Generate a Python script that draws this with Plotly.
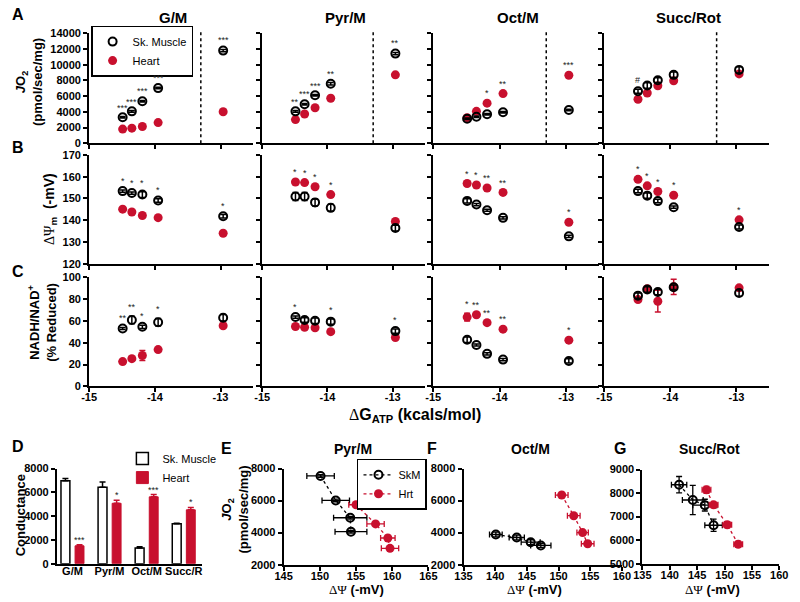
import plotly.graph_objects as go

# ================= DATA =================
dG = [-14.49, -14.35, -14.19, -13.95, -12.96]          # ΔG_ATP (kcal/mol)
dg_ticks = [-15, -14, -13]
substrates = ["G/M", "Pyr/M", "Oct/M", "Succ/Rot"]

# Row A: JO2 (pmol/sec/mg)
jo2_ticks = [0, 2000, 4000, 6000, 8000, 10000, 12000, 14000]
jo2_skm = [[3300, 4060, 5360, 7030, 11810],
           [4060, 4980, 6110, 7580, 11430],
           [3130, 3380, 3690, 3940, 4230],
           [6620, 7370, 8040, 8720, 9350]]
jo2_skm_err = [[100, 100, 100, 100, 150],
               [100, 100, 100, 150, 150],
               [100, 100, 100, 100, 100],
               [250, 350, 300, 350, 400]]
jo2_hrt = [[1800, 1920, 2130, 2630, 4010],
           [3010, 3720, 4520, 5740, 8720],
           [3260, 4060, 5110, 6330, 8670],
           [5610, 6400, 7330, 7960, 8840]]
jo2_hrt_err = [[80, 80, 80, 80, 100],
               [80, 80, 80, 100, 100],
               [80, 80, 100, 100, 100],
               [100, 150, 150, 200, 200]]
jo2_stars = [["***", "***", "***", "***", "***"],
             ["**", "***", "***", "**", "**"],
             ["", "", "*", "**", "***"],
             ["#", "", "", "", ""]]

# Row B: membrane potential (-mV)
psi_ticks = [120, 130, 140, 150, 160, 170]
psi_skm = [[153.4, 152.5, 151.8, 149.1, 141.8],
           [150.9, 150.9, 148.2, 145.7, 136.4],
           [148.9, 147.2, 144.6, 141.1, 132.6],
           [153.4, 151.3, 148.8, 146.0, 136.9]]
psi_skm_err = [[0.5, 0.5, 1.3, 0.8, 0.8],
               [1.8, 1.8, 1.6, 1.6, 1.3],
               [1.0, 0.5, 0.5, 0.5, 0.5],
               [0.8, 1.2, 0.8, 0.5, 0.9]]
psi_hrt = [[145.1, 143.8, 142.2, 141.2, 134.0],
           [157.6, 157.3, 155.4, 151.8, 139.4],
           [156.9, 156.2, 154.8, 152.8, 139.1],
           [158.8, 155.8, 153.2, 151.5, 140.2]]
psi_hrt_err = [[0.4, 0.4, 0.4, 0.4, 0.4],
               [0.4, 0.4, 0.4, 0.4, 0.4],
               [0.4, 0.4, 0.4, 0.4, 0.4],
               [0.4, 0.4, 0.4, 0.4, 0.4]]
psi_stars = [["*", "*", "*", "*", "*"],
             ["*", "*", "*", "*", ""],
             ["*", "*", "**", "**", "*"],
             ["*", "*", "*", "*", "*"]]

# Row C: NADH/NAD+ (% reduced)
nadh_ticks = [0, 20, 40, 60, 80, 100]
nadh_skm = [[53.1, 60.9, 54.7, 58.8, 63.0],
            [63.6, 60.9, 60.3, 59.4, 50.7],
            [42.7, 37.9, 29.8, 24.5, 23.3],
            [83.3, 89.0, 86.6, 91.0, 85.7]]
nadh_skm_err = [[1.0, 3.5, 1.5, 3.5, 3.0],
                [1.0, 2.0, 2.5, 2.5, 2.0],
                [2.5, 1.0, 1.0, 1.0, 2.0],
                [2.5, 2.5, 2.5, 2.0, 3.0]]
nadh_hrt = [[22.7, 25.4, 28.3, 33.7, 55.6],
            [54.9, 54.3, 53.8, 50.2, 44.8],
            [63.6, 65.7, 58.5, 52.5, 42.4],
            [79.7, 89.6, 78.2, 91.4, 90.5]]
nadh_hrt_err = [[1.0, 1.0, 4.5, 1.0, 1.0],
                [1.0, 1.0, 1.0, 1.0, 1.0],
                [3.5, 1.0, 1.0, 1.0, 1.0],
                [1.0, 1.5, 10.0, 7.0, 1.0]]
nadh_stars = [["**", "**", "*", "*", ""],
              ["*", "", "", "*", "*"],
              ["*", "**", "**", "**", "*"],
              ["", "", "", "", ""]]

# Panel D: conductance
cond_cats = ["G/M", "Pyr/M", "Oct/M", "Succ/R"]
cond_pos = [0, 1, 2, 3]
cond_ticks = [0, 2000, 4000, 6000, 8000]
cond_skm = [6970, 6420, 1310, 3360]
cond_skm_err = [200, 450, 120, 50]
cond_hrt = [1500, 5080, 5620, 4530]
cond_hrt_err = [100, 250, 200, 200]
cond_stars = ["***", "*", "***", "*"]

# Panels E-G: JO2 vs membrane potential
e_psi_skm = [150.1, 152.2, 154.2, 154.3]
e_psi_skm_err = [1.9, 1.9, 2.3, 2.2]
e_jo2_skm = [7540, 6010, 4930, 4056]
e_jo2_skm_err = [80, 80, 80, 80]
e_psi_hrt = [155.0, 157.7, 159.4, 159.7]
e_psi_hrt_err = [1.0, 1.2, 1.0, 1.2]
e_jo2_hrt = [5740, 4544, 3665, 3018]
e_jo2_hrt_err = [80, 80, 80, 80]
e_ticks_x = [145, 150, 155, 160, 165]
e_ticks_y = [2000, 4000, 6000, 8000]

f_psi_skm = [140.1, 143.4, 145.6, 147.2]
f_psi_skm_err = [1.0, 1.2, 1.5, 1.6]
f_jo2_skm = [3882, 3696, 3404, 3199]
f_jo2_skm_err = [150, 150, 150, 120]
f_psi_hrt = [150.5, 152.4, 153.8, 154.6]
f_psi_hrt_err = [1.0, 1.0, 0.9, 1.0]
f_jo2_hrt = [6348, 5056, 4000, 3304]
f_jo2_hrt_err = [100, 80, 80, 80]
f_ticks_x = [135, 140, 145, 150, 155, 160]
f_ticks_y = [2000, 4000, 6000, 8000]

g_psi_skm = [141.7, 144.2, 146.4, 148.0]
g_psi_skm_err = [1.4, 1.9, 2.2, 1.6]
g_jo2_skm = [8355, 7707, 7488, 6632]
g_jo2_skm_err = [350, 620, 250, 260]
g_psi_hrt = [146.7, 148.0, 150.5, 152.5]
g_psi_hrt_err = [0.8, 0.8, 0.8, 0.8]
g_jo2_hrt = [8138, 7500, 6653, 5826]
g_jo2_hrt_err = [150, 120, 120, 120]
g_ticks_x = [135, 140, 145, 150, 155, 160]
g_ticks_y = [5000, 6000, 7000, 8000, 9000]

# ================= STYLE / GEOMETRY =================
W, H = 800, 602
FONT = "Arial, 'Liberation Sans', Helvetica, sans-serif"
RED = "#C8102E"
BLK = "black"

panel_x = [(82, 250), (259, 426), (434, 604), (609, 778)]
row_y = [(28, 140), (152, 263), (277, 388)]
row_range = [[0, 14000], [120, 170], [0, 100]]
break_x = -13.3

fig = go.Figure()

axis_common = dict(showline=True, linecolor=BLK, linewidth=2, ticks="outside",
                   ticklen=4, tickwidth=1.5, tickcolor=BLK, showgrid=False,
                   zeroline=False, fixedrange=True,
                   tickfont=dict(family=FONT, size=11, color=BLK, weight="bold"))

_count = [0]


def new_axes(xd, yd, xr, yr, xkw=None, ykw=None):
    _count[0] += 1
    n = _count[0]
    sx = "" if n == 1 else str(n)
    xa = dict(axis_common)
    xa.update(domain=[xd[0] / W, xd[1] / W], range=xr, anchor="y" + sx,
              ticklabelstandoff=-4)
    xa.update(xkw or {})
    ya = dict(axis_common)
    ya.update(domain=[1 - yd[1] / H, 1 - yd[0] / H], range=yr, anchor="x" + sx)
    ya.update(ykw or {})
    fig.update_layout({"xaxis" + sx: xa, "yaxis" + sx: ya})
    return "x" + sx, "y" + sx


def label(px, py, s, size, bold=True, angle=0, xanchor="center", yanchor="middle"):
    fig.add_annotation(x=px / W, y=1 - py / H, xref="paper", yref="paper", text=s,
                       showarrow=False, textangle=angle, xanchor=xanchor, yanchor=yanchor,
                       font=dict(family=FONT, size=size, color=BLK,
                                 weight="bold" if bold else "normal"))


def skm_marker():
    return dict(symbol="circle-open", size=8, color=BLK, line=dict(width=2, color=BLK))


def hrt_marker():
    return dict(symbol="circle", size=9, color=RED, line=dict(width=0))


def tick_text(vals):
    return [str(v) for v in vals]


rows = [(jo2_skm, jo2_skm_err, jo2_hrt, jo2_hrt_err, jo2_stars, jo2_ticks),
        (psi_skm, psi_skm_err, psi_hrt, psi_hrt_err, psi_stars, psi_ticks),
        (nadh_skm, nadh_skm_err, nadh_hrt, nadh_hrt_err, nadh_stars, nadh_ticks)]

for r, (vs, es, vh, eh, stars, yt) in enumerate(rows):
    for p in range(4):
        xkw = dict(tickvals=dg_ticks, ticktext=tick_text(dg_ticks),
                   showticklabels=(r == 2))
        ykw = dict(tickvals=yt, ticktext=tick_text(yt), showticklabels=(p == 0))
        xa, ya = new_axes(panel_x[p], row_y[r], [-15, -12.5], row_range[r], xkw, ykw)
        first = (r == 0 and p == 0)
        fig.add_trace(go.Scatter(
            x=dG, y=vh[p], mode="markers", xaxis=xa, yaxis=ya, name="Heart",
            marker=hrt_marker(), showlegend=first, legend="legend", legendrank=2,
            error_y=dict(type="data", array=eh[p], color=RED, thickness=1.5, width=3),
            cliponaxis=False))
        fig.add_trace(go.Scatter(
            x=dG, y=vs[p], mode="markers", xaxis=xa, yaxis=ya, name="Sk. Muscle",
            marker=skm_marker(), showlegend=first, legend="legend", legendrank=1,
            error_y=dict(type="data", array=es[p], color=BLK, thickness=1.5, width=3),
            cliponaxis=False))
        for i, s in enumerate(stars[p]):
            if s:
                top = max(vs[p][i] + es[p][i], vh[p][i] + eh[p][i])
                fig.add_annotation(x=dG[i], y=top, xref=xa, yref=ya, text=s,
                                   showarrow=False, yshift=9, yanchor="middle",
                                   font=dict(family=FONT, size=9, color="#222"))
        if r == 0:
            fig.add_shape(type="line", xref=xa, yref="paper", x0=break_x, x1=break_x,
                          y0=1 - 140 / H, y1=1 - 24 / H,
                          line=dict(color=BLK, width=1.5, dash="dot"))

# ---- Panel D ----
xa, ya = new_axes((49, 197), (472, 569), [-0.42, 3.48], [0, 8000],
                  dict(tickvals=cond_pos, ticktext=cond_cats, ticks=""),
                  dict(tickvals=cond_ticks, ticktext=tick_text(cond_ticks)))
fig.add_trace(go.Bar(x=cond_pos, y=cond_skm, width=0.24, offset=-0.31, xaxis=xa, yaxis=ya,
                     name="Sk. Muscle", legend="legend2",
                     marker=dict(color="white", line=dict(color=BLK, width=1.5)),
                     error_y=dict(type="data", symmetric=False, array=cond_skm_err,
                                  arrayminus=[0, 0, 0, 0], color=BLK, thickness=1.5, width=3)))
fig.add_trace(go.Bar(x=cond_pos, y=cond_hrt, width=0.24, offset=0.07, xaxis=xa, yaxis=ya,
                     name="Heart", legend="legend2",
                     marker=dict(color=RED, line=dict(color=RED, width=1)),
                     error_y=dict(type="data", symmetric=False, array=cond_hrt_err,
                                  arrayminus=[0, 0, 0, 0], color=RED, thickness=1.5, width=3)))
for i, s in enumerate(cond_stars):
    fig.add_annotation(x=cond_pos[i] + 0.19, y=cond_hrt[i] + cond_hrt_err[i], xref=xa, yref=ya,
                       text=s, showarrow=False, yshift=5, yanchor="middle",
                       font=dict(family=FONT, size=9, color="#222"))

# ---- Panels E, F, G ----
scatter_panels = [
    ((281, 429), (472, 570), [145, 165], [2000, 8000], e_ticks_x, e_ticks_y,
     (e_psi_skm, e_psi_skm_err, e_jo2_skm, e_jo2_skm_err),
     (e_psi_hrt, e_psi_hrt_err, e_jo2_hrt, e_jo2_hrt_err), True),
    ((465, 627), (472, 570), [135, 160], [2000, 8000], f_ticks_x, f_ticks_y,
     (f_psi_skm, f_psi_skm_err, f_jo2_skm, f_jo2_skm_err),
     (f_psi_hrt, f_psi_hrt_err, f_jo2_hrt, f_jo2_hrt_err), False),
    ((648, 788), (473, 569), [135, 160], [5000, 9000], g_ticks_x, g_ticks_y,
     (g_psi_skm, g_psi_skm_err, g_jo2_skm, g_jo2_skm_err),
     (g_psi_hrt, g_psi_hrt_err, g_jo2_hrt, g_jo2_hrt_err), False),
]
for xd, yd, xr, yr, tx, ty, skm, hrt, leg in scatter_panels:
    xa, ya = new_axes(xd, yd, xr, yr, dict(tickvals=tx, ticktext=tick_text(tx)),
                      dict(tickvals=ty, ticktext=tick_text(ty)))
    fig.add_trace(go.Scatter(
        x=skm[0], y=skm[2], mode="lines+markers", xaxis=xa, yaxis=ya, name="SkM",
        line=dict(color=BLK, width=1.3, dash="dot"), marker=skm_marker(),
        error_x=dict(type="data", array=skm[1], color=BLK, thickness=1.3, width=3),
        error_y=dict(type="data", array=skm[3], color=BLK, thickness=1.3, width=3),
        showlegend=leg, legend="legend3", cliponaxis=False))
    fig.add_trace(go.Scatter(
        x=hrt[0], y=hrt[2], mode="lines+markers", xaxis=xa, yaxis=ya, name="Hrt",
        line=dict(color=RED, width=1.3, dash="dot"), marker=hrt_marker(),
        error_x=dict(type="data", array=hrt[1], color=RED, thickness=1.3, width=3),
        error_y=dict(type="data", array=hrt[3], color=RED, thickness=1.3, width=3),
        showlegend=leg, legend="legend3", cliponaxis=False))

# ================= TEXT =================
for p, name in enumerate(substrates):
    label((panel_x[p][0] + panel_x[p][1]) / 2 + 2, 12, name, 15)

label(9, 9, "A", 16)
label(9, 144, "B", 16)
label(9, 271, "C", 16)
label(9, 449, "D", 16)
label(223, 451, "E", 16)
label(433, 451, "F", 16)
label(625, 451, "G", 16)

SERIF_SPAN = "<span style='font-family:Liberation Serif;font-weight:normal'>"
jo2_title = "<i>J</i>O<sub>2</sub><br>(pmol/sec/mg)"
label(21, 78, jo2_title, 13, angle=-90)
label(42, 207, SERIF_SPAN + "ΔΨ</span><sub>m</sub>  (-mV)", 14, angle=-90)
label(34, 323, "NADH/NAD<sup>+</sup><br>(% Reduced)", 13, angle=-90)
label(415, 418, SERIF_SPAN + "Δ</span>G<sub>ATP</sub> (kcals/mol)", 16)
label(12, 520, "Conductance", 13, angle=-90)
label(231, 514, jo2_title, 13, angle=-90)

psi_title = SERIF_SPAN + "ΔΨ</span> (-mV)"
label(355, 595, psi_title, 13)
label(538, 595, psi_title, 13)
label(720, 595, psi_title, 13)

label(352, 452, "Pyr/M", 14)
label(534, 452, "Oct/M", 14)
label(717, 452, "Succ/Rot", 14)

fig.update_layout(
    width=W, height=H, margin=dict(l=0, r=0, t=0, b=0),
    paper_bgcolor="white", plot_bgcolor="white",
    font=dict(family=FONT, color=BLK),
    legend=dict(x=84 / W, y=1 - 20 / H, xanchor="left", yanchor="top",
                bgcolor="white", bordercolor=BLK, borderwidth=1.5,
                font=dict(family=FONT, size=11, color=BLK), tracegroupgap=0),
    legend2=dict(x=116 / W, y=1 - 447 / H, xanchor="left", yanchor="top",
                 bgcolor="rgba(0,0,0,0)", borderwidth=0,
                 font=dict(family=FONT, size=11, color=BLK), tracegroupgap=0),
    legend3=dict(x=356 / W, y=1 - 462 / H, xanchor="left", yanchor="top",
                 bgcolor="white", bordercolor=BLK, borderwidth=1.5,
                 font=dict(family=FONT, size=11, color=BLK), tracegroupgap=0),
    hovermode=False,
)

fig.write_html("out.html", config={"displayModeBar": False},
               post_script="document.body.style.margin='0px';")
